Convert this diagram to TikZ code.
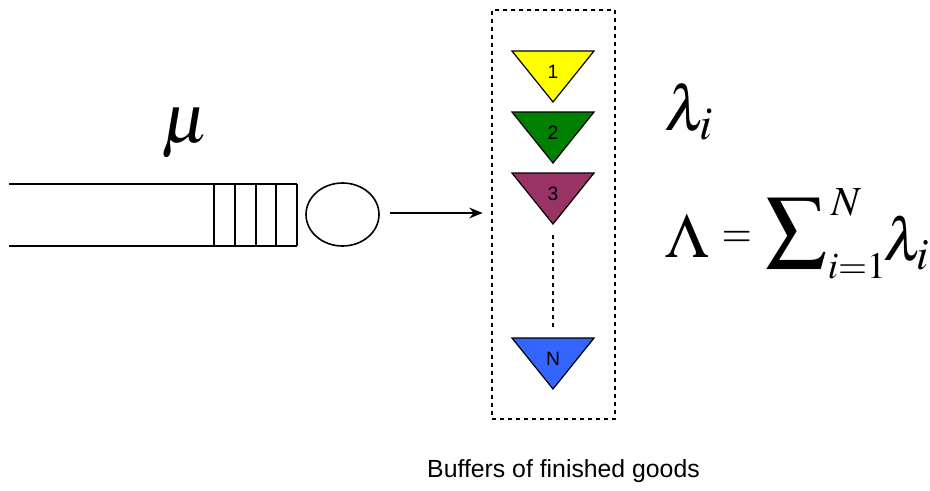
\documentclass[tikz,border=0pt]{standalone}
\usepackage{mathptmx}
\usepackage{graphicx}
\usepackage{fontspec}
\setsansfont{Liberation Sans}
\usetikzlibrary{shapes.geometric,arrows.meta}
\definecolor{bufyellow}{RGB}{255,255,0}
\definecolor{bufgreen}{RGB}{0,128,0}
\definecolor{bufpurple}{RGB}{153,51,102}
\definecolor{bufblue}{RGB}{51,102,255}
\tikzset{
  qline/.style={line width=1.2pt},
  buftri/.style={draw=black, line width=0.9pt, line join=miter},
  digit/.style={font=\sffamily\fontsize{14.5}{16}\selectfont, inner sep=0pt},
  bigmath/.style={inner sep=0pt, scale=4.75},
  mathpart/.style={inner sep=0pt},
}
\begin{document}
\begin{tikzpicture}[x=0.75pt, y=-0.75pt]
\useasboundingbox (0,0) rectangle (930,490);

% waiting line of the server
\draw[qline] (9,184) -- (297,184);
\draw[qline] (9,246) -- (297,246);
\foreach \xq in {214,235,256,276,297}
  \draw[qline] (\xq,184) -- (\xq,246);

% the server
\node[draw, qline, ellipse, minimum width=54.75pt, minimum height=47.25pt, inner sep=0pt]
  (server) at (342.5,214.5) {};
\node[anchor=base, inner sep=0pt, scale=5.2] (mu) at (185,142) {$\mu$};

% frame round the buffers
\node[draw, dashed, line width=1pt, minimum width=92.25pt, minimum height=306.75pt, inner sep=0pt]
  (frame) at (553.5,214.5) {};

\draw[-{Stealth[length=10pt,width=8pt]}, line width=1.5pt, shorten <=7.5pt, shorten >=6.5pt]
  (server.east |- 0,213) -- (frame.west |- 0,213);

% buffers of finished goods
\foreach \nm/\yt/\col/\lab in {b1/51/bufyellow/1, b2/112/bufgreen/2, b3/173/bufpurple/3, bN/338/bufblue/N}{
  \draw[buftri, fill=\col] (512,\yt) -- (594,\yt) -- (553,\yt+51) -- cycle;
  \coordinate (\nm-top) at (553,\yt);
  \coordinate (\nm-tip) at (553,\yt+51);
  \node[digit] (\nm) at (553,\yt+21) {\lab};
}
\draw[dashed, line width=1.2pt, shorten <=8pt, shorten >=7.5pt] (b3-tip) -- (bN-top);

% arrival rates
\node[anchor=base west, bigmath] (lam) at (663,130) {$\lambda_i$};

% total rate, set piece by piece
\node[anchor=base west, bigmath] (Lam) at (664,257) {$\Lambda$};
\node[mathpart, xscale=2.9, yscale=3.3] (eq) at (737,239) {$=$};
\node[mathpart] (sum) at (796,233) {\resizebox*{46.5pt}{52.5pt}{$\textstyle\sum$}};
\node[anchor=base west, inner sep=0pt, scale=3.1] (upper) at (831,215) {$N$};
\node[anchor=base west, inner sep=0pt, scale=2.8] (lower) at (827,278) {$i{=}1$};
\node[anchor=base west, inner sep=0pt, scale=4.5] (lamsum) at (882,260) {$\lambda_i$};

\node[anchor=base, inner sep=0pt, font=\sffamily\fontsize{18.6}{20}\selectfont] (caption) at (563.5,477)
  {Buffers of finished goods};
\end{tikzpicture}
\end{document}
